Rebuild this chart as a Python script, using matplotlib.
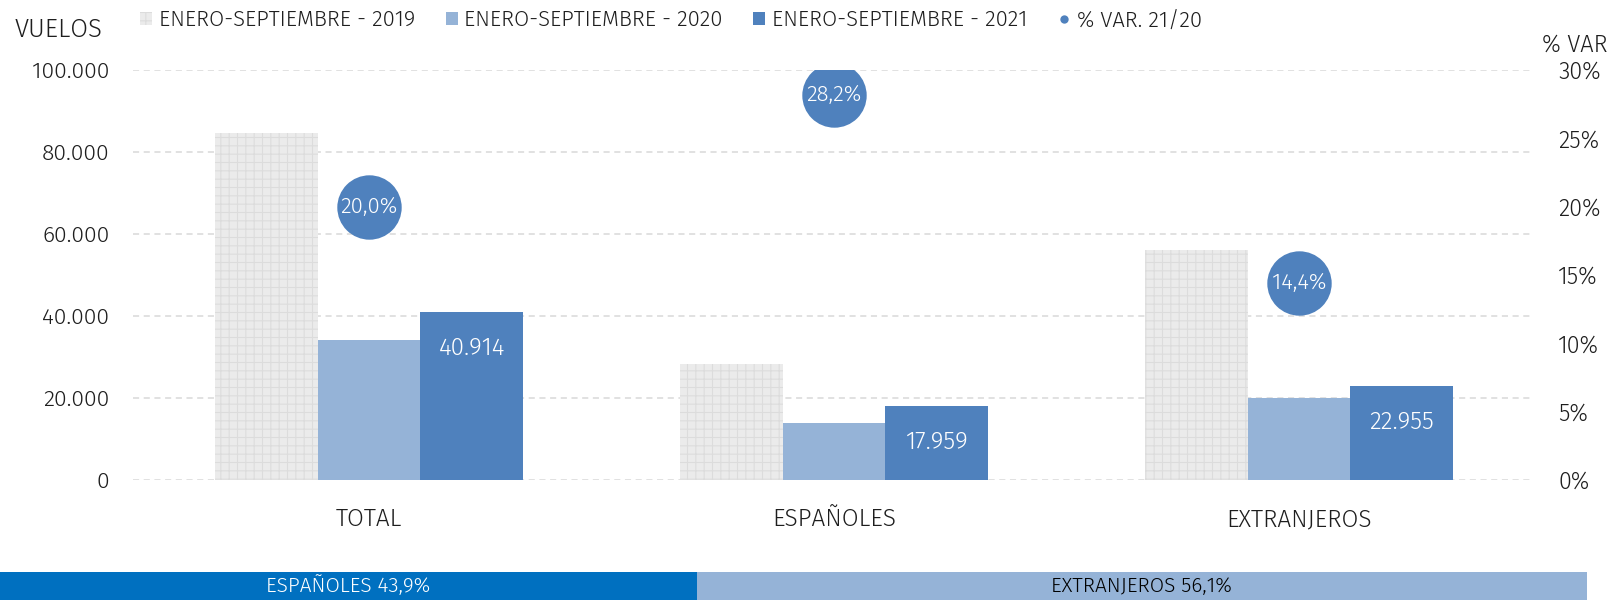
import matplotlib
matplotlib.use("Agg")
import matplotlib.pyplot as plt
import numpy as np
from matplotlib.patches import Patch
from matplotlib.lines import Line2D

plt.rcParams["font.family"] = ["Fira Sans", "DejaVu Sans"]
plt.rcParams["font.weight"] = 300
plt.rcParams["hatch.linewidth"] = 0.8

# =========================
# Data
# =========================
categories = ["TOTAL", "ESPAÑOLES", "EXTRANJEROS"]
vuelos_2019 = [84600, 28300, 56200]
vuelos_2020 = [34100, 13950, 20000]
vuelos_2021 = [40914, 17959, 22955]
var_21_20 = [20.0, 28.2, 14.4]

series_names = ["ENERO-SEPTIEMBRE - 2019", "ENERO-SEPTIEMBRE - 2020",
                "ENERO-SEPTIEMBRE - 2021", "% VAR. 21/20"]

share_labels = ["ESPAÑOLES", "EXTRANJEROS"]
share_values = [43.9, 56.1]

# =========================
# Styles
# =========================
C_2019 = "#EBEBEB"
C_2019_HATCH = "#DCDCDC"
C_2020 = "#95B3D7"
C_2021 = "#4F81BD"
C_TEXT = "#1E1E1E"


def fmt_miles(v):
    return f"{int(round(v)):,}".replace(",", ".")


fig = plt.figure(figsize=(16.09, 6.0), dpi=100)

# main axes
ax = fig.add_axes([133 / 1609, 120 / 600, (1532 - 133) / 1609, 410 / 600])
x = np.arange(len(categories))
w = 0.221

ax.bar(x - w, vuelos_2019, w, color=C_2019, edgecolor=C_2019_HATCH,
       hatch="++", linewidth=0, zorder=2)
ax.bar(x, vuelos_2020, w, color=C_2020, linewidth=0, zorder=2)
bars21 = ax.bar(x + w, vuelos_2021, w, color=C_2021, linewidth=0, zorder=2)

for rect, v in zip(bars21, vuelos_2021):
    ax.annotate(fmt_miles(v), (rect.get_x() + rect.get_width() / 2, v),
                xytext=(0, -26), textcoords="offset points",
                ha="center", va="center", color="white", fontsize=17.5, zorder=5)

ax.set_xlim(-0.5075, 2.501)
ax.set_ylim(0, 100000)
ax.set_yticks(np.arange(0, 100001, 20000))
ax.set_yticklabels([fmt_miles(v) for v in np.arange(0, 100001, 20000)])
ax.set_xticks(x)
ax.set_xticklabels(categories)
ax.tick_params(axis="y", length=0, pad=17, labelsize=16.5, labelcolor=C_TEXT)
ax.tick_params(axis="x", length=0, pad=20, labelsize=17.5, labelcolor=C_TEXT)
ax.grid(axis="y", color="#D9D9D9", linestyle=(0, (4, 3)), linewidth=1.1, zorder=0)
ax.set_axisbelow(True)
for s in ax.spines.values():
    s.set_visible(False)

# secondary axis for % var
ax2 = ax.twinx()
ax2.set_ylim(0, 30)
ax2.set_yticks(np.arange(0, 31, 5))
ax2.set_yticklabels([f"{v}%" for v in range(0, 31, 5)])
ax2.tick_params(axis="y", length=0, pad=19, labelsize=16.8, labelcolor=C_TEXT)
for s in ax2.spines.values():
    s.set_visible(False)
ax2.scatter(x, var_21_20, s=2150, color=C_2021, linewidths=0, zorder=4)
for xi, v in zip(x, var_21_20):
    ax2.text(xi, v, f"{v:.1f}%".replace(".", ","), ha="center", va="center",
             color="white", fontsize=16, zorder=5)

# axis titles
fig.text(15 / 1609, 1 - 30 / 600, "VUELOS", ha="left", va="center",
         fontsize=18.5, color=C_TEXT)
fig.text(1607 / 1609, 1 - 45 / 600, "% VAR", ha="right", va="center",
         fontsize=17, color=C_TEXT)

# legend
handles = [
    Patch(facecolor=C_2019, edgecolor=C_2019_HATCH, hatch="++", linewidth=0),
    Patch(facecolor=C_2020, linewidth=0),
    Patch(facecolor=C_2021, linewidth=0),
    Line2D([], [], marker="o", linestyle="none", markersize=6,
           markerfacecolor=C_2021, markeredgewidth=0),
]
fig.legend(handles, series_names, loc="center left",
           bbox_to_anchor=(140 / 1609, 1 - 20 / 600), ncol=4, frameon=False,
           fontsize=15.8, handlelength=0.55, handleheight=0.55,
           handletextpad=0.3, columnspacing=1.4, borderaxespad=0,
           borderpad=0, labelcolor=C_TEXT)

# bottom share band
axb = fig.add_axes([0, 0, 1587 / 1609, 28.5 / 600])
band_colors = ["#0070C0", "#95B3D7"]
band_text = ["white", "black"]
left = 0
for lab, val, col, tcol in zip(share_labels, share_values, band_colors, band_text):
    axb.barh(0, val, left=left, height=1, color=col, linewidth=0)
    axb.text(left + val / 2, 0, f"{lab} {val:.1f}%".replace(".", ","),
             ha="center", va="center", color=tcol, fontsize=15)
    left += val
axb.set_xlim(0, 100)
axb.set_ylim(-0.5, 0.5)
axb.axis("off")

fig.savefig("out.png", dpi=100)
